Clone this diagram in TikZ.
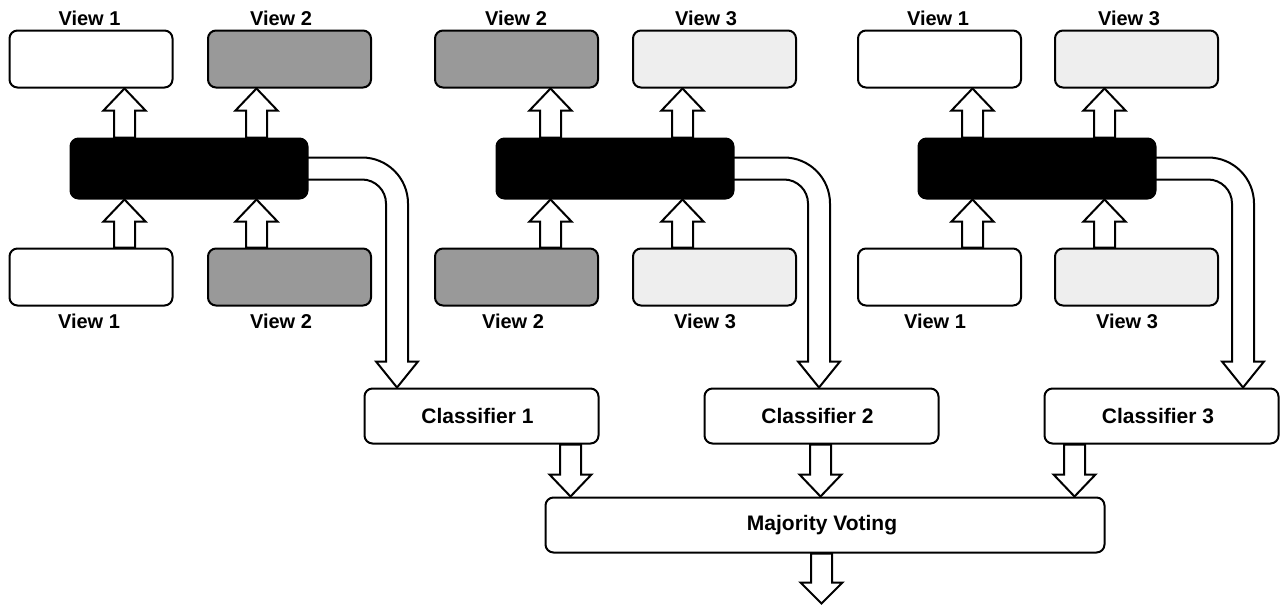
\documentclass[tikz,border=0pt]{standalone}
\usepackage{fontspec}
\setmainfont{Liberation Sans}
\usetikzlibrary{calc}
\pgfdeclarelayer{bg}
\pgfsetlayers{bg,main}
\definecolor{midgray}{HTML}{999999}
\definecolor{palegray}{HTML}{EEEEEE}
\tikzset{
  viewbox/.style={draw=black, line width=2pt, rounded corners=8pt, minimum width=163pt, minimum height=57pt, inner sep=0pt},
  wbox/.style={viewbox, fill=white},
  gbox/.style={viewbox, fill=midgray},
  lbox/.style={viewbox, fill=palegray},
  blackbox/.style={draw=black, fill=black, line width=2pt, rounded corners=8pt, minimum width=237pt, minimum height=60pt, inner sep=0pt},
  clbox/.style={draw=black, fill=white, line width=2pt, rounded corners=8pt, minimum width=234pt, minimum height=55pt, inner sep=0pt, font=\bfseries\fontsize{21}{24}\selectfont},
  lab/.style={font=\bfseries\fontsize{20}{24}\selectfont, anchor=base, inner sep=0pt},
  barrow/.style={draw=black, fill=white, line width=2pt, line join=miter},
}
\newcommand\blockarrow[3][22pt]{%
  \coordinate (hb) at ($(#3)!#1!(#2)$);
  \draw[barrow] ($(#2)!10.5pt!90:(#3)$) -- ($(hb)!10.5pt!90:(#3)$) -- ($(hb)!21pt!90:(#3)$) -- (#3)
    -- ($(hb)!21pt!-90:(#3)$) -- ($(hb)!10.5pt!-90:(#3)$) -- ($(#2)!10.5pt!-90:(#3)$) -- cycle;
}
\begin{document}
\begin{tikzpicture}[x=1pt, y=-1pt]
\useasboundingbox (0,0) rectangle (1288,605);
% group 1
\node[wbox] (ta1) at (91,59) {};
\node[gbox] (tb1) at (289.5,59) {};
\node[blackbox] (k1) at (189,168.5) {};
\node[wbox] (ba1) at (91,277) {};
\node[gbox] (bb1) at (289.5,277) {};
% group 2
\node[gbox] (ta2) at (516.5,59) {};
\node[lbox] (tb2) at (714.5,59) {};
\node[blackbox] (k2) at (615,168.5) {};
\node[gbox] (ba2) at (516.5,277) {};
\node[lbox] (bb2) at (714.5,277) {};
% group 3
\node[wbox] (ta3) at (939.5,59) {};
\node[lbox] (tb3) at (1136.5,59) {};
\node[blackbox] (k3) at (1037,168.5) {};
\node[wbox] (ba3) at (939.5,277) {};
\node[lbox] (bb3) at (1136.5,277) {};
% labels
\node[lab] (lta1) at (89.5,25) {View 1};
\node[lab] (ltb1) at (281,25) {View 2};
\node[lab] (lba1) at (89,328) {View 1};
\node[lab] (lbb1) at (281,328) {View 2};
\node[lab] (lta2) at (516,25) {View 2};
\node[lab] (ltb2) at (706,25) {View 3};
\node[lab] (lba2) at (513,328) {View 2};
\node[lab] (lbb2) at (705,328) {View 3};
\node[lab] (lta3) at (938,25) {View 1};
\node[lab] (ltb3) at (1129,25) {View 3};
\node[lab] (lba3) at (935,328) {View 1};
\node[lab] (lbb3) at (1127,328) {View 3};
% classifiers
\node[clbox] (c1) at (481.5,416) {Classifier 1\hspace*{8pt}};
\node[clbox] (c2) at (821.5,416) {Classifier 2\hspace*{8pt}};
\node[clbox] (c3) at (1161.5,416) {Classifier 3\hspace*{7pt}};
\node[clbox, minimum width=559pt] (mv) at (825,525) {Majority Voting\hspace*{6pt}};
\begin{pgfonlayer}{bg}
\foreach \i in {1,2,3}{
  \foreach \s/\o in {a/55, b/187}{
    \coordinate (up\i\s) at ($(k\i.north west)+(\o,0)$);
    \coordinate (uptip\i\s) at (up\i\s |- t\s\i.south);
    \coordinate (lo\i\s) at (up\i\s |- b\s\i.north);
    \coordinate (lotip\i\s) at (up\i\s |- k\i.south);
    \blockarrow{up\i\s}{uptip\i\s}
    \blockarrow{lo\i\s}{lotip\i\s}
  }
}
% curved arrows
\coordinate (ct1) at ($(c1.north west)+(33.5,0)$);
\coordinate (ct2) at ($(c2.north west)+(115.5,0)$);
\coordinate (ct3) at ($(c3.north west)+(199.5,0)$);
\foreach \i in {1,2,3}{
  \draw[barrow] let \p1=(k\i.east), \p2=(ct\i) in
    (\x1-4pt,\y1+11pt) -- (\x2-35pt,\y1+11pt) arc[start angle=90,end angle=0,radius=46pt]
    -- (\x2+11pt,\y2+26pt) -- (\x2+21pt,\y2+26pt) -- (\x2,\y2) -- (\x2-21pt,\y2+26pt)
    -- (\x2-11pt,\y2+26pt) -- (\x2-11pt,\y1-35pt) arc[start angle=0,end angle=90,radius=24pt]
    -- (\x1-4pt,\y1-11pt);
}
% classifier to voting
\coordinate (cd1) at ($(c1.south west)+(207,0)$);
\coordinate (cd2) at ($(c2.south west)+(117,0)$);
\coordinate (cd3) at ($(c3.south west)+(31,0)$);
\foreach \i in {1,2,3}{
  \coordinate (cdt\i) at (cd\i |- mv.north);
  \blockarrow{cd\i}{cdt\i}
}
\coordinate (fo) at ($(mv.south)+(-3.5,0)$);
\coordinate (fot) at ($(fo)+(0,50)$);
\blockarrow[21pt]{fo}{fot}
\end{pgfonlayer}
\end{tikzpicture}
\end{document}
